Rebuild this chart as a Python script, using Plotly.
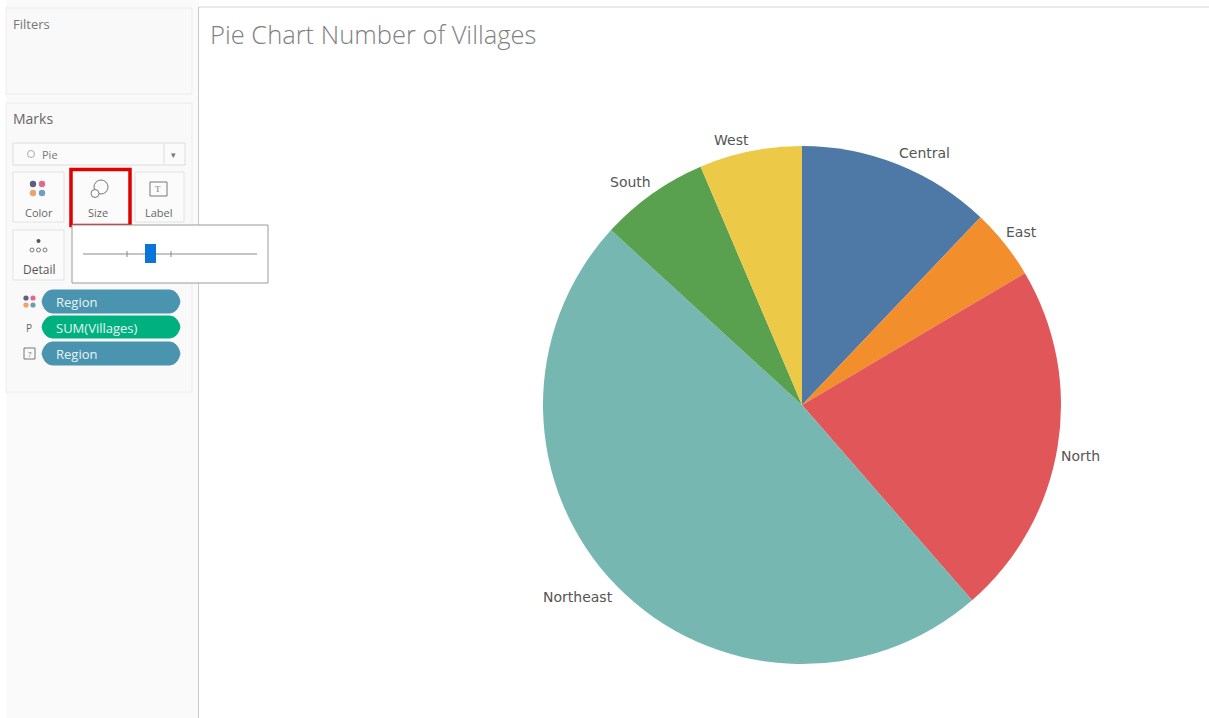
import plotly.graph_objects as go

W, H = 1209, 718

regions = ["Central", "East", "North", "Northeast", "South", "West"]
villages = [12.1, 4.4, 22.1, 48.2, 6.8, 6.4]
colors = ["#4e79a7", "#f28e2b", "#e15759", "#76b7b2", "#59a14f", "#edc948"]
chart_title = "Pie Chart Number of Villages"
pills = ["Region", "SUM(Villages)", "Region"]
pill_colors = ["#4a94b0", "#00b180", "#4a94b0"]
cards = ["Color", "Size", "Label", "Detail"]


def px(x):
    return x / W


def py(y):
    return 1 - y / H


shapes = []
annotations = []


def rect(x0, y0, x1, y1, fill="rgba(0,0,0,0)", line="rgba(0,0,0,0)", width=1):
    shapes.append(dict(type="rect", xref="paper", yref="paper", x0=px(x0), x1=px(x1),
                       y0=py(y0), y1=py(y1), fillcolor=fill,
                       line=dict(color=line, width=width), layer="above"))


def circle(cx, cy, r, fill="rgba(0,0,0,0)", line="rgba(0,0,0,0)", width=1):
    shapes.append(dict(type="circle", xref="paper", yref="paper", x0=px(cx - r), x1=px(cx + r),
                       y0=py(cy - r), y1=py(cy + r), fillcolor=fill,
                       line=dict(color=line, width=width), layer="above"))


def hline(x0, x1, y, color, width=1):
    shapes.append(dict(type="line", xref="paper", yref="paper", x0=px(x0), x1=px(x1),
                       y0=py(y), y1=py(y), line=dict(color=color, width=width), layer="above"))


def vline(x, y0, y1, color, width=1):
    shapes.append(dict(type="line", xref="paper", yref="paper", x0=px(x), x1=px(x),
                       y0=py(y0), y1=py(y1), line=dict(color=color, width=width), layer="above"))


def label(x, y, text, size=12, color="#666666", anchor="left", family="Open Sans"):
    annotations.append(dict(xref="paper", yref="paper", x=px(x), y=py(y), text=text,
                            showarrow=False, xanchor=anchor, yanchor="middle",
                            font=dict(size=size, color=color, family=family)))


def pill(x0, x1, y0, y1, fill):
    c = 10
    ym = (y0 + y1) / 2
    path = (f"M {px(x0 + c)} {py(y0)} L {px(x1 - c)} {py(y0)} "
            f"Q {px(x1 - 2)} {py(y0 + 1)} {px(x1)} {py(ym)} "
            f"Q {px(x1 - 2)} {py(y1 - 1)} {px(x1 - c)} {py(y1)} "
            f"L {px(x0 + c)} {py(y1)} "
            f"Q {px(x0 + 2)} {py(y1 - 1)} {px(x0)} {py(ym)} "
            f"Q {px(x0 + 2)} {py(y0 + 1)} {px(x0 + c)} {py(y0)} Z")
    shapes.append(dict(type="path", xref="paper", yref="paper", path=path, fillcolor=fill,
                       line=dict(color=fill, width=1), layer="above"))


# Left-hand panels
rect(0, 0, 198, H, fill="#fafafa")
rect(0, 0, 6, H, fill="#ffffff")
rect(6, 8, 192, 94, fill="#f9f9f9", line="#ececec")
rect(6, 103, 192, 392, fill="#f9f9f9", line="#ececec")
vline(198.5, 7, H, "#c9c9c9", 1)
hline(198, W, 7, "#d4d4d4", 1)
label(11, 24, "Filters", 13, "#777777")
label(11, 119, "Marks", 14, "#666666")

# Mark type drop-down
rect(13, 143, 185, 165, fill="#fbfbfb", line="#dddddd")
vline(164, 144, 164, "#dddddd")
circle(31, 154, 3.5, line="#aaaaaa")
label(40, 155, "Pie", 11, "#777777")
label(173, 155, "▾", 9, "#777777", "center")

# Cards
rect(13, 172, 64, 222, fill="#fbfbfb", line="#e3e3e3")
rect(135, 172, 184, 222, fill="#fbfbfb", line="#e3e3e3")
rect(13, 230, 64, 280, fill="#fbfbfb", line="#e3e3e3")
rect(71, 169.5, 130, 225.5, fill="#fbfbfb", line="#e00000", width=3.5)
label(38.5, 213, cards[0], 11, "#666666", "center")
label(98, 213, cards[1], 11, "#666666", "center")
label(159, 213, cards[2], 11, "#666666", "center")
label(38.5, 269, cards[3], 12, "#555555", "center")

# Colour card icon
for cx, cy, col in [(33, 184, "#5f5f83"), (42, 184, "#e06a8e"), (33, 193, "#eea26d"), (42, 193, "#6d9fc7")]:
    circle(cx, cy, 3.2, fill=col)
# Size card icon
circle(101, 187, 7, line="#777777")
circle(95, 193.5, 4, fill="#fbfbfb", line="#777777")
# Label card icon
rect(150, 182, 167, 196, line="#777777")
label(158.5, 189, "T", 9, "#777777", "center", "Liberation Serif")
# Detail card icon
circle(38.5, 241, 2, fill="#555555")
for cx in (32, 38.5, 45):
    circle(cx, 250, 2, line="#777777")

# Size slider popup
rect(72, 225, 268, 283, fill="#ffffff", line="#9a9a9a")
hline(83, 257, 254, "#8a8a8a")
vline(127, 251, 257, "#8a8a8a")
vline(171, 251, 257, "#8a8a8a")
rect(145, 244, 156, 263, fill="#0b74d8")

# Shelf pills
for (y0, y1, text, col) in zip((290, 316, 342), (313, 338, 365), pills, pill_colors):
    pill(42, 180, y0, y1, col)
    label(54, (y0 + y1) / 2 + 0.5, text, 13, "#e9f4f4")

for cx, cy, col in [(26, 298, "#5f5f83"), (33, 298, "#e06a8e"), (26, 305, "#eea26d"), (33, 305, "#6da0a8")]:
    circle(cx, cy, 2.6, fill=col)
label(29, 328, "P", 10, "#666666", "center")
rect(24, 348, 35, 359, line="#777777")
label(29.5, 353.5, "?", 8, "#777777", "center")

# Slice labels: centre position of each name beside its slice
label_centres = [(924, 153), (1021, 232), (1080, 456), (578, 597), (630, 182), (731, 140)]
for name, (lx, ly) in zip(regions, label_centres):
    label(lx, ly, name, 14, "#555555", "center", "DejaVu Sans")

fig = go.Figure(
    go.Pie(
        labels=regions,
        values=villages,
        sort=False,
        direction="clockwise",
        rotation=0,
        marker=dict(colors=colors, line=dict(width=0)),
        textinfo="none",
        automargin=False,
        showlegend=False,
        domain=dict(x=[px(543), px(1061)], y=[py(664), py(146)]),
    )
)

fig.update_layout(
    width=W,
    height=H,
    autosize=False,
    margin=dict(l=0, r=0, t=0, b=0),
    paper_bgcolor="#ffffff",
    title=dict(text=chart_title, x=px(210), xanchor="left", xref="paper",
               y=py(35), yanchor="middle",
               font=dict(family="Open Sans Light, Open Sans", size=25.5, color="#808080")),
    shapes=shapes,
    annotations=annotations,
)

fig.write_html("out.html", config=dict(displayModeBar=False),
               post_script="document.body.style.margin='0';document.body.style.overflow='hidden';")
